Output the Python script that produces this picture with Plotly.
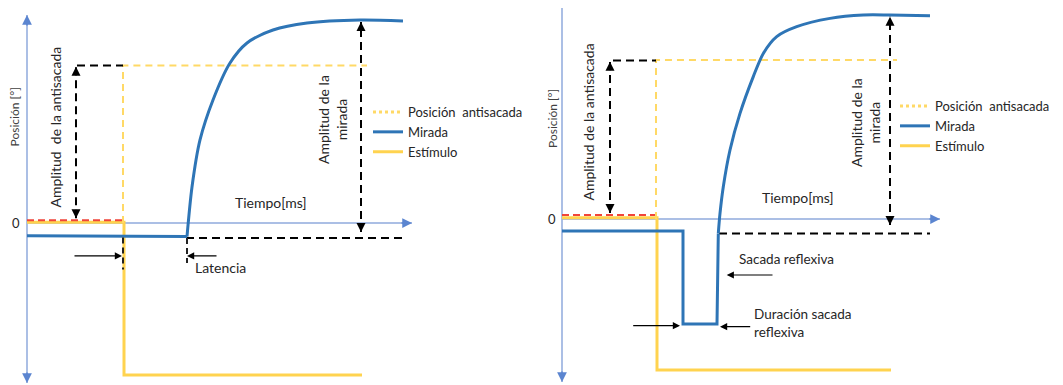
import plotly.graph_objects as go

# ---------------- data: left panel (antisacada correcta) ----------------
L_stim_t = [0, 97, 97, 335]
L_stim_y = [0.05, 0.05, -9.5, -9.5]
L_ref_t = [0, 96]
L_ref_y = [0.17, 0.17]
L_anti_t = [96, 96, 340]
L_anti_y = [0.0, 9.85, 9.85]
L_gaze_base_t = [0, 160]
L_gaze_base_y = [-0.8, -0.85]
L_gaze_curve_t = [160, 165, 173, 186, 203, 220, 246, 280, 333, 376]
L_gaze_curve_y = [-0.85, 2.25, 5.19, 7.69, 10.0, 11.25, 12.06, 12.5, 12.69, 12.63]
L_black_top_t = [50, 96]
L_black_top_y = [9.85, 9.85]
L_black_low_t = [159, 376]
L_black_low_y = [-0.94, -0.94]
L_amp_anti_t = [49, 49]
L_amp_anti_y = [0.29, 9.77]
L_amp_gaze_t = [334, 334]
L_amp_gaze_y = [-0.56, 12.56]
L_tick1_t = [96, 96]
L_tick1_y = [-0.9, -2.9]
L_tick2_t = [160, 160]
L_tick2_y = [-0.94, -2.5]
L_axis_y = [-10.0, 13.0]
L_axis_x = [0, 385]

# ---------------- data: right panel (sacada refleja) ----------------
R_stim_t = [0, 95, 95, 329]
R_stim_y = [0.08, 0.08, -9.44, -9.44]
R_ref_t = [0, 95]
R_ref_y = [0.25, 0.25]
R_anti_t = [94, 94, 335]
R_anti_y = [0.0, 9.94, 9.94]
R_gaze_base_t = [0, 121, 121, 155, 156.3]
R_gaze_base_y = [-0.75, -0.75, -6.56, -6.56, -0.9]
R_gaze_curve_t = [156.3, 158, 161.3, 168, 178, 191.3, 201.3, 214.7, 234.7, 268, 301.3, 328, 368]
R_gaze_curve_y = [-0.9, 0.35, 2.02, 4.31, 6.6, 8.9, 10.35, 11.4, 12.02, 12.54, 12.75, 12.75, 12.71]
R_black_top_t = [51, 94]
R_black_top_y = [9.9, 9.9]
R_black_low_t = [157, 368]
R_black_low_y = [-0.9, -0.9]
R_amp_anti_t = [48, 48]
R_amp_anti_y = [0.375, 9.83]
R_amp_gaze_t = [328, 328]
R_amp_gaze_y = [-0.375, 12.64]
R_axis_y = [-10.19, 13.19]
R_axis_x = [0, 378]

legend_names = ["Posición  antisacada", "Mirada", "Estímulo"]

BLUE = "#2E75B6"
YEL = "#FFD34F"
YEL_D = "#FFD966"
AX = "#8FAADC"
AXH = "#5B85D0"
RED = "#F0443A"
FONT = "Lato"
TXT = "#262626"

fig = go.Figure()


def line(t, y, xa, ya, color, width, dash="solid", shape="linear"):
    fig.add_trace(go.Scatter(x=t, y=y, xaxis=xa, yaxis=ya, mode="lines",
                             line=dict(color=color, width=width, dash=dash, shape=shape,
                                       smoothing=0.8),
                             showlegend=False, hoverinfo="skip"))


panels = [
    dict(xa="x", ya="y", leg="legend",
         stim=(L_stim_t, L_stim_y), ref=(L_ref_t, L_ref_y), anti=(L_anti_t, L_anti_y),
         gb=(L_gaze_base_t, L_gaze_base_y), gc=(L_gaze_curve_t, L_gaze_curve_y),
         bt=(L_black_top_t, L_black_top_y), bl=(L_black_low_t, L_black_low_y),
         aa=(L_amp_anti_t, L_amp_anti_y), ag=(L_amp_gaze_t, L_amp_gaze_y),
         axy=L_axis_y, axx=L_axis_x),
    dict(xa="x2", ya="y2", leg="legend2",
         stim=(R_stim_t, R_stim_y), ref=(R_ref_t, R_ref_y), anti=(R_anti_t, R_anti_y),
         gb=(R_gaze_base_t, R_gaze_base_y), gc=(R_gaze_curve_t, R_gaze_curve_y),
         bt=(R_black_top_t, R_black_top_y), bl=(R_black_low_t, R_black_low_y),
         aa=(R_amp_anti_t, R_amp_anti_y), ag=(R_amp_gaze_t, R_amp_gaze_y),
         axy=R_axis_y, axx=R_axis_x),
]

annotations = []
for p in panels:
    xa, ya = p["xa"], p["ya"]
    xr, yr = xa, ya
    # axes lines (thin light blue) with arrowheads
    line([0, 0], p["axy"], xa, ya, AX, 1.5)
    line(p["axx"], [0, 0], xa, ya, AX, 1.5)
    annotations.append(dict(x=0, y=p["axy"][1], xref=xr, yref=yr, ax=0, ay=12, text="",
                            showarrow=True, arrowhead=2, arrowsize=1.3, arrowwidth=1.5,
                            arrowcolor=AXH))
    annotations.append(dict(x=0, y=p["axy"][0], xref=xr, yref=yr, ax=0, ay=-12, text="",
                            showarrow=True, arrowhead=2, arrowsize=1.3, arrowwidth=1.5,
                            arrowcolor=AXH))
    annotations.append(dict(x=p["axx"][1], y=0, xref=xr, yref=yr, ax=-12, ay=0, text="",
                            showarrow=True, arrowhead=2, arrowsize=1.3, arrowwidth=1.5,
                            arrowcolor=AXH))
    # stimulus, reference, antisaccade position
    line(*p["stim"], xa, ya, YEL, 3)
    line(*p["ref"], xa, ya, RED, 2, "7px,4px")
    line(*p["anti"], xa, ya, YEL_D, 2, "7px,5px")
    # black dashed guides
    line(*p["bt"], xa, ya, "black", 2, "8px,5px")
    line(*p["bl"], xa, ya, "black", 2, "8px,5px")
    line(*p["aa"], xa, ya, "black", 2, "8px,5px")
    line(*p["ag"], xa, ya, "black", 2, "8px,5px")
    for tt, yy in (p["aa"], p["ag"]):
        annotations.append(dict(x=tt[1], y=yy[1], xref=xr, yref=yr, ax=0, ay=10, text="",
                                showarrow=True, arrowhead=2, arrowsize=1.2, arrowwidth=1.5,
                                arrowcolor="black"))
        annotations.append(dict(x=tt[0], y=yy[0], xref=xr, yref=yr, ax=0, ay=-10, text="",
                                showarrow=True, arrowhead=2, arrowsize=1.2, arrowwidth=1.5,
                                arrowcolor="black"))
    # gaze
    line(*p["gb"], xa, ya, BLUE, 3)
    line(*p["gc"], xa, ya, BLUE, 3, shape="spline")
    # legend entries
    styles = [dict(color=YEL_D, width=3, dash="dot"), dict(color=BLUE, width=3),
              dict(color=YEL, width=3)]
    for nm, st in zip(legend_names, styles):
        fig.add_trace(go.Scatter(x=[None], y=[None], xaxis=xa, yaxis=ya, mode="lines",
                                 line=st, name=nm, legend=p["leg"], showlegend=True))

# latency ticks (left panel)
line(L_tick1_t, L_tick1_y, "x", "y", "#222222", 2, "6px,4px")
line(L_tick2_t, L_tick2_y, "x", "y", "#222222", 2, "6px,4px")


def harrow(x0, x1, y, xr, yr):
    annotations.append(dict(x=x1, y=y, ax=x0, ay=y, xref=xr, yref=yr, axref=xr, ayref=yr,
                            text="", showarrow=True, arrowhead=2, arrowsize=1.2,
                            arrowwidth=1.2, arrowcolor="black"))


harrow(46, 95, -2.06, "x", "y")
harrow(191, 160, -2.06, "x", "y")
harrow(212, 164.7, -3.5, "x2", "y2")
harrow(69.7, 118, -6.67, "x2", "y2")
harrow(189.7, 158, -6.73, "x2", "y2")


def text(s, x, y, xr, yr, size=14, angle=0, xanchor="center", color=TXT, align="center"):
    annotations.append(dict(text=s, x=x, y=y, xref=xr, yref=yr, showarrow=False,
                            textangle=angle, xanchor=xanchor, yanchor="middle", align=align,
                            font=dict(family=FONT, size=size, color=color)))


# left panel texts
text("0", -11, 0, "x", "y", 13)
text("Posición [°]", -13, 6.6, "x", "y", 12, -90, color="#404040")
text("Amplitud  de la antisacada", 28, 5.97, "x", "y", 14, -90)
text("Amplitud de la<br>mirada", 306, 6.44, "x", "y", 14, -90)
text("Tiempo[ms]", 244, 1.27, "x", "y", 14)
text("Latencia", 193, -2.81, "x", "y", 14)
# right panel texts
text("0", -10, 0, "x2", "y2", 13)
text("Posición [°]", -10, 6.25, "x2", "y2", 12, -90, color="#404040")
text("Amplitud de la antisacada", 27, 6.03, "x2", "y2", 14, -90)
text("Amplitud de la<br>mirada", 303, 6.0, "x2", "y2", 14, -90)
text("Tiempo[ms]", 236, 1.33, "x2", "y2", 14)
text("Sacada reflexiva", 175, -2.5, "x2", "y2", 13.5, xanchor="left")
text("Duración sacada<br>reflexiva", 190, -6.5, "x2", "y2", 13.5, xanchor="left", align="left")

# the page body adds an 8px offset, so the figure is 8px smaller and shifted
OFF = 8
W, H = 1063 - OFF, 385 - OFF
SPLIT = 531.5 - OFF
fig.update_layout(
    width=W, height=H, margin=dict(l=0, r=0, t=0, b=0),
    paper_bgcolor="white", plot_bgcolor="white",
    xaxis=dict(domain=[0, SPLIT / W], range=[-(27 - OFF), SPLIT - (27 - OFF)],
               visible=False, fixedrange=True),
    yaxis=dict(domain=[0, 1], range=[-(H - (223 - OFF)) / 16, (223 - OFF) / 16],
               visible=False, fixedrange=True),
    xaxis2=dict(domain=[SPLIT / W, 1], range=[-30.5, 501], visible=False, fixedrange=True,
                anchor="y2"),
    yaxis2=dict(domain=[0, 1], range=[-(H - (219 - OFF)) / 16, (219 - OFF) / 16],
                visible=False, fixedrange=True, anchor="x2"),
    legend=dict(x=(368 - OFF) / W, y=1 - (97 - OFF) / H, xanchor="left", yanchor="top",
                font=dict(family=FONT, size=13, color=TXT), bgcolor="rgba(0,0,0,0)",
                itemwidth=30, tracegroupgap=0),
    legend2=dict(x=(895 - OFF) / W, y=1 - (91 - OFF) / H, xanchor="left", yanchor="top",
                 font=dict(family=FONT, size=13, color=TXT), bgcolor="rgba(0,0,0,0)",
                 itemwidth=30, tracegroupgap=0),
    annotations=annotations,
    showlegend=True,
)

fig.write_html("out.html")
